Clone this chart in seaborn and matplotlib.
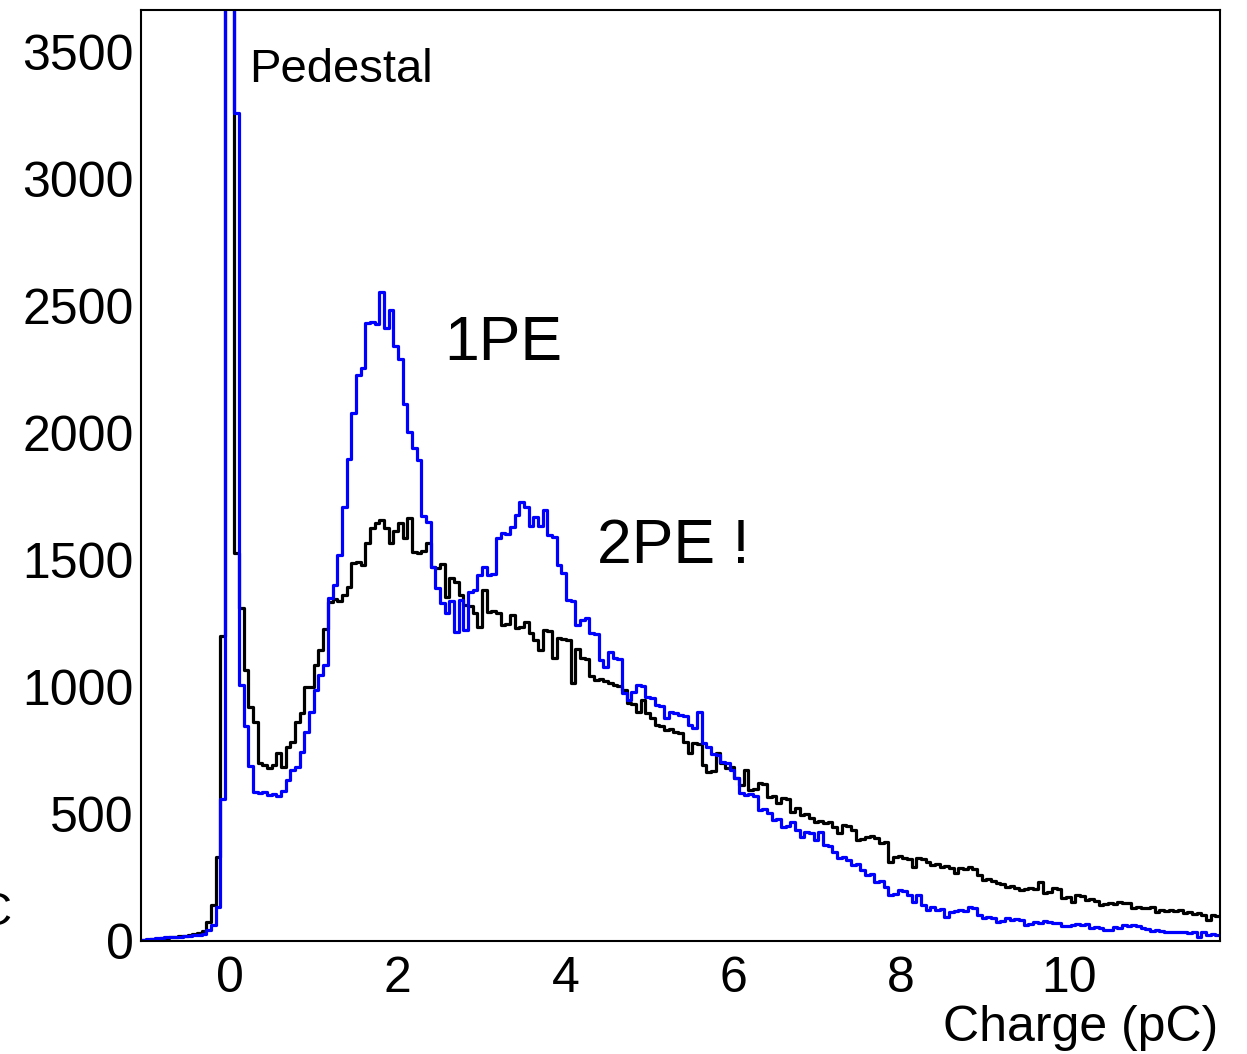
import numpy as np
import pandas as pd
import matplotlib
matplotlib.use("Agg")
import matplotlib.pyplot as plt
from matplotlib.ticker import MultipleLocator
import seaborn as sns

# ---------------- data ----------------
x_min, x_max, n_bins = -1.06, 11.80, 231

counts_black = [
    3, 5, 6, 8, 10, 12, 14, 16, 18, 20, 22, 26, 30, 40, 75, 142, 330, 1200, 6000, 6000,
    1527, 1311, 1067, 921, 862, 701, 693, 681, 693, 740, 685, 764, 783, 862, 897, 1000, 1000, 1087, 1146, 1228,
    1335, 1345, 1340, 1362, 1394, 1488, 1492, 1480, 1567, 1626, 1646, 1657, 1626, 1567, 1614, 1646, 1587, 1665, 1531, 1527,
    1535, 1567, 1472, 1468, 1484, 1354, 1429, 1413, 1362, 1323, 1318, 1291, 1236, 1382, 1295, 1300, 1290, 1244, 1248, 1283,
    1232, 1236, 1256, 1213, 1185, 1146, 1224, 1220, 1114, 1193, 1190, 1185, 1016, 1150, 1114, 1110, 1043, 1028, 1032, 1025,
    1016, 1008, 1004, 988, 937, 933, 902, 949, 898, 878, 850, 846, 831, 835, 823, 820, 783, 740, 780, 776,
    693, 665, 668, 740, 701, 681, 685, 642, 614, 673, 594, 598, 622, 618, 567, 570, 543, 563, 560, 508,
    524, 496, 500, 484, 468, 472, 465, 470, 449, 425, 457, 453, 437, 398, 402, 409, 412, 405, 386, 390,
    311, 331, 335, 327, 323, 291, 327, 323, 311, 299, 303, 291, 295, 288, 268, 287, 283, 290, 284, 260,
    240, 244, 238, 228, 225, 213, 217, 210, 201, 204, 209, 205, 232, 189, 192, 209, 206, 169, 172, 154,
    181, 178, 161, 164, 158, 142, 145, 150, 147, 153, 149, 151, 130, 133, 128, 131, 134, 114, 122, 119,
    124, 120, 122, 110, 113, 108, 111, 102, 83, 102, 100,
]

counts_blue = [
    4, 6, 8, 10, 12, 14, 15, 16, 17, 18, 20, 22, 24, 28, 43, 63, 134, 560, 6000, 6000,
    3260, 1008, 846, 689, 587, 583, 587, 575, 578, 570, 590, 634, 673, 685, 744, 822, 902, 988, 1047, 1087,
    1350, 1402, 1520, 1709, 1898, 2079, 2228, 2256, 2433, 2436, 2430, 2555, 2413, 2484, 2342, 2291, 2114, 2004, 1941, 1894,
    1673, 1650, 1472, 1390, 1331, 1291, 1339, 1217, 1342, 1224, 1374, 1382, 1441, 1472, 1441, 1444, 1587, 1606, 1603, 1630,
    1677, 1728, 1709, 1634, 1669, 1634, 1697, 1598, 1591, 1480, 1449, 1342, 1338, 1244, 1264, 1272, 1213, 1210, 1106, 1079,
    1138, 1114, 1110, 976, 949, 980, 1008, 1004, 961, 958, 929, 925, 878, 902, 898, 890, 886, 850, 839, 902,
    780, 764, 736, 732, 705, 701, 673, 642, 583, 575, 578, 572, 516, 519, 504, 476, 479, 449, 452, 468,
    437, 409, 429, 425, 398, 429, 378, 374, 350, 327, 330, 319, 299, 302, 280, 260, 263, 232, 235, 213,
    181, 184, 201, 198, 181, 154, 181, 140, 122, 134, 122, 125, 94, 114, 117, 122, 119, 134, 131, 102,
    91, 94, 89, 75, 78, 91, 83, 86, 81, 63, 66, 75, 72, 77, 74, 71, 69, 59, 61, 63,
    66, 62, 67, 51, 54, 50, 43, 45, 55, 53, 63, 60, 64, 61, 51, 49, 39, 42, 38, 35,
    37, 34, 36, 35, 33, 36, 16, 35, 24, 26, 22,
]

annotations = ["Pedestal", "1PE", "2PE !"]
x_ticks = [0, 2, 4, 6, 8, 10]
y_ticks = [0, 500, 1000, 1500, 2000, 2500, 3000, 3500]
x_label = "Charge (pC)"

assert len(counts_black) == n_bins and len(counts_blue) == n_bins

# ---------------- figure ----------------
sns.set_style("white")
plt.rcParams["font.family"] = ["Liberation Sans", "DejaVu Sans"]
plt.rcParams["text.color"] = "black"

W, H = 1247, 1054
fig = plt.figure(figsize=(W / 100, H / 100), dpi=100)
ax = fig.add_axes([141 / W, 1 - 941 / H, (1220 - 141) / W, (941 - 10) / H])

edges = np.linspace(x_min, x_max, n_bins + 1)
centers = 0.5 * (edges[:-1] + edges[1:])
bin_list = [float(e) for e in edges]

df_black = pd.DataFrame({"charge": centers, "counts": counts_black})
df_blue = pd.DataFrame({"charge": centers, "counts": counts_blue})

sns.histplot(data=df_black, x="charge", weights="counts", bins=bin_list,
             element="step", fill=False, color="black", linewidth=2.3, ax=ax)
sns.histplot(data=df_blue, x="charge", weights="counts", bins=bin_list,
             element="step", fill=False, color="#0000FF", linewidth=2.3, ax=ax)

ax.set_xlim(x_min, x_max)
ax.set_ylim(0, 3665)
ax.set_xlabel("")
ax.set_ylabel("")

ax.set_xticks(x_ticks)
ax.set_yticks(y_ticks)
ax.xaxis.set_minor_locator(MultipleLocator(0.5))
ax.yaxis.set_minor_locator(MultipleLocator(100))
ax.tick_params(axis="both", which="both", direction="in", top=False, right=False,
               width=1.2, color="black", labelcolor="black", labelsize=36)
ax.tick_params(axis="y", which="major", length=24, pad=5)
ax.tick_params(axis="y", which="minor", length=12)
ax.tick_params(axis="x", which="major", length=20, pad=11)
ax.tick_params(axis="x", which="minor", length=9.5)

for s in ax.spines.values():
    s.set_visible(True)
    s.set_linewidth(1.5)
    s.set_color("black")

ax.text(0.228, 3382, annotations[0], fontsize=34, va="baseline", ha="left", color="black")
ax.text(2.56, 2287, annotations[1], fontsize=45, va="baseline", ha="left", color="black")
ax.text(4.37, 1488, annotations[2], fontsize=45, va="baseline", ha="left", color="black")

fig.text(1218 / W, 1 - 1041 / H, x_label, fontsize=36, ha="right", va="baseline", color="black")
fig.text(-22 / W, 1 - 925 / H, "C", fontsize=34, ha="left", va="baseline", color="black")

fig.savefig("out.png", dpi=100, facecolor="white")
